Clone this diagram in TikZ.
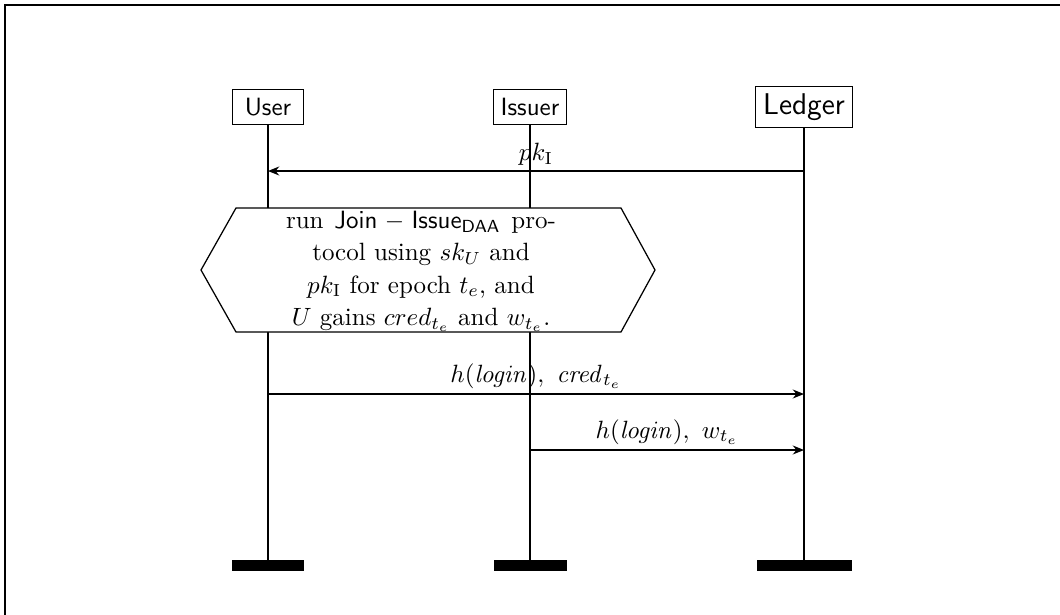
\documentclass[tikz,border=0pt]{standalone}
\usetikzlibrary{calc,arrows.meta}
\begin{document}
\begin{tikzpicture}[x=0.4pt,y=-0.4pt,
  actor/.style={draw,line width=0.4pt,font=\sffamily,inner sep=3pt,minimum height=14pt},
  life/.style={line width=0.9pt},
  msg/.style={line width=0.5pt,-{Stealth[length=4.5pt,width=3.6pt]}},
  endbar/.style={fill=black,draw=none,inner sep=0pt,minimum height=11*0.4pt}]
\useasboundingbox (0,0) rectangle (1060,614);
% outer frame (only top and left edges fall inside the page)
\draw[line width=0.8pt] (5,700) -- (5,5) -- (1100,5);

% participants
\node[actor,minimum width=71*0.4pt] (user) at (268,107) {User};
\node[actor,minimum width=73*0.4pt] (issuer) at (530,107) {Issuer};
\node[actor,minimum width=95*0.4pt,font=\sffamily\large] (ledger) at (804,107) {Ledger};

% end markers
\node[endbar,minimum width=72*0.4pt] (userend) at (268,565.5) {};
\node[endbar,minimum width=73*0.4pt] (issuerend) at (530,565.5) {};
\node[endbar,minimum width=95*0.4pt] (ledgerend) at (804,565.5) {};

% lifelines
\draw[life] (user.south) -- (userend.north);
\draw[life] (issuer.south) -- (issuerend.north);
\draw[life] (ledger.south) -- (ledgerend.north);

% messages
\coordinate (m1l) at (268,171);
\coordinate (m1r) at (804,171);
\draw[msg] (m1r) -- node[above,inner sep=2pt] {$pk_{\mathrm{I}}$} (m1l);

% protocol step box (hexagon)
\coordinate (jnw) at (236,208);
\coordinate (jne) at (621,208);
\coordinate (jse) at (621,332);
\coordinate (jsw) at (236,332);
\coordinate (jw) at (201,270);
\coordinate (je) at (655,270);
\draw[fill=white,line width=0.5pt]
  (jnw) -- (jne) -- (je) -- (jse) -- (jsw) -- (jw) -- cycle;
\node[inner sep=0pt,align=center,font=\normalsize] (join) at (421,271.5)
  {\makebox[108pt][s]{run $\mathsf{Join}-\mathsf{Issue}_{\mathsf{DAA}}$ pro-}\\[0.9pt]
   tocol using $sk_U$ and\\[0.9pt]
   $pk_{\mathrm{I}}$ for epoch $t_e$, and\\[0.9pt]
   $U$ gains $cred_{t_e}$ and $w_{t_e}$.};

\coordinate (m2l) at (268,394);
\coordinate (m2r) at (804,394);
\draw[msg] (m2l) -- node[above,inner sep=2pt] {$h(\mathit{login}),\ \mathit{cred}_{t_e}$} (m2r);

\coordinate (m3l) at (530,450);
\coordinate (m3r) at (804,450);
\draw[msg] (m3l) -- node[above,inner sep=2pt] {$h(\mathit{login}),\ w_{t_e}$} (m3r);
\end{tikzpicture}
\end{document}
